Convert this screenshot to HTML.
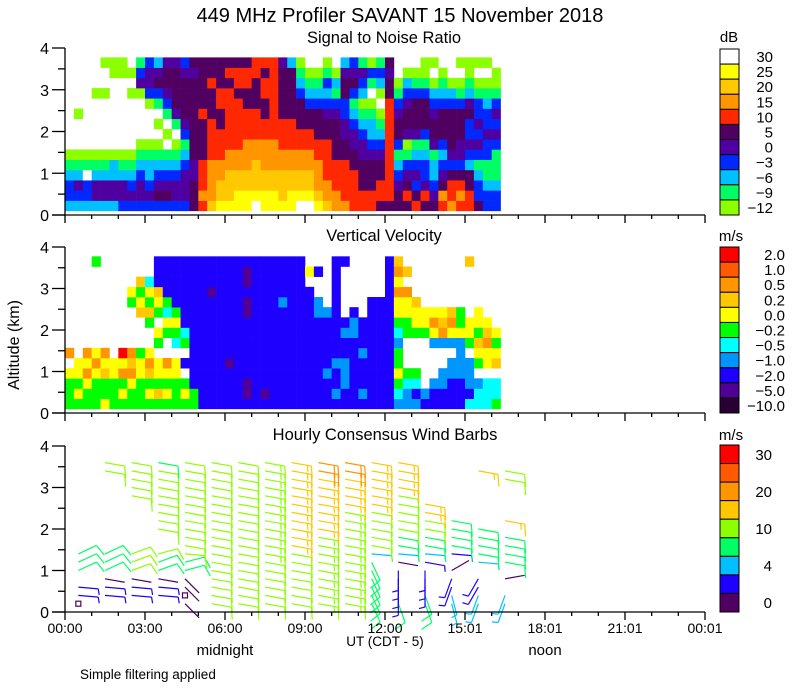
<!DOCTYPE html>
<html><head><meta charset="utf-8"><style>
body{margin:0;background:#fff;}
svg{display:block;font-family:"Liberation Sans",sans-serif;}
</style></head><body>
<svg id="chart" width="800" height="700" viewBox="0 0 800 700" xmlns="http://www.w3.org/2000/svg">
<rect x="0" y="0" width="800" height="700" fill="#fff"/>
<text x="400" y="22" font-size="20" text-anchor="middle">449 MHz Profiler SAVANT 15 November 2018</text>
<text x="384" y="43" font-size="16.5" text-anchor="middle">Signal to Noise Ratio</text>
<text x="384" y="241" font-size="16.5" text-anchor="middle">Vertical Velocity</text>
<text x="385" y="440" font-size="16.5" text-anchor="middle">Hourly Consensus Wind Barbs</text>
<text x="19" y="345" font-size="16" text-anchor="middle" transform="rotate(-90 19 345)">Altitude (km)</text>
<text x="385" y="646" font-size="13.5" text-anchor="middle">UT  (CDT - 5)</text>
<text x="225" y="655" font-size="15" text-anchor="middle">midnight</text>
<text x="545" y="655" font-size="15" text-anchor="middle">noon</text>
<text x="80" y="679" font-size="13.5">Simple filtering applied</text>
<text x="729" y="42" font-size="15" text-anchor="middle">dB</text>
<text x="731" y="241" font-size="15" text-anchor="middle">m/s</text>
<text x="731" y="440" font-size="15" text-anchor="middle">m/s</text>
<g id="layer"></g>
</svg>
<script>
// ---- Data ----
const timeTicks = ["00:00","03:00","06:00","09:00","12:00","15:01","18:01","21:01","00:01"];
const altTicks = [0,1,2,3,4];
const snrLabels = ["30","25","20","15","10","5","0","\u22123","\u22126","\u22129","\u221212"];
const snrCodes = ["w","y","g","o","r","p","v","b","c","n","l"];
const snrColors = ["#ffffff","#ffff00","#ffc800","#ff9600","#ff2800","#500060","#5000a0","#0028ff","#00c0ff","#00ff64","#8cff00"];
const vvLabels = ["2.0","1.0","0.5","0.2","0.0","\u22120.2","\u22120.5","\u22121.0","\u22122.0","\u22125.0","\u221210.0"];
const vvCodes = ["R","O","o","g","y","n","c","a","b","v","k"];
const vvColors = ["#ff0000","#ff5a00","#ff9600","#ffc800","#ffff00","#00ff00","#00ffff","#0096ff","#1e00ff","#500096","#280032"];
const windLabels = ["30","","20","","10","","4","","0"];
const windBounds = [30,25,20,15,10,7,4,2,0];
const windColors = ["#ff0000","#ff5a00","#ff9600","#ffc800","#8cff00","#00ff64","#00c0ff","#1e00ff","#500060"];
// heatmap columns: 20-minute steps from 00:00, each string = 15 altitude bins bottom->top
const snrCols = ["cbbcnl.........","cbvcnl...l.....","cbbwnl.........","cvvcnl.....l...","cvvcnl.....l..l","cvvccl.......ll","bvvcnl.......ll","bvbcnl.....l.l.","bvvbcnl....lvbn","bvbccnl...lbvvb","bpvbcnl.l.nbpvc","bpvbcn.l.nbvppv","bvvbcnl.nvppppv","bvvvbcnbvppppvb","pppvvppppppppvp","rorrrpppprppppp","goooorrrrppprpp","yggoorrrpprrppp","ygggoorrrrrrprp","yyggoorrrrrprrp","yyggooorrrpprrp","wygggoorrrppprr","yyggooorrpprrpr","yyggooorrrrrrrr","ygggoorrrpppppv","yyggoorrrpppppc","wyggoorrpppbcnl","wyggoorrppbcnl.","ygooorrpppbcnl.","goorrrrppvbcbnl","oorrrppppvbncl.","orrrrppvvbbppvc","rrrrppvvbcnbpvb","rrpppvvbcnlcbvn","rrpppvbccnl.nbl","prrppvbcnl.lcbn","prrrrrrrrrrppvp","ppvbcnbppvbnl..","prpvbnlvppvbcl.","rpbvbcnvpppbnl.","prvbbcnbpppbnll","pvbccnvppvbcl.l","ropvbcbpppbcnl.","orrpbvppppbcl..","rorpbvvpppbnl.l","rrppcbvbbpvcnll","pbbcnbvbvbbnl.l","bbcnnbbvbbcnl.l","bbcnnnbvbvbnll."];
const vvCols = ["nnny.o.........","nynyy..........","nnyoyo.........","nnnyoy........n","ynngyo.........","nnnyy..........","nynoyR.........","nnyogo....ny...","nnnyyn...gyng..","nyngoy..ngnyc..","ngnyy.ny.nygbbb","nynyo..nycnbbbb","nnnyy.cnynbbbbb","nyn.b.ncbbbbbbb","nnbbbbbbbbbbbbb","bbbbbbbbbbbbbbb","bbbbbbbbbbbvbbb","bbbbbbbbbbbbbbb","bbbbvbbbbbbbbbb","bbbbbbbbbbbbbbb","bvvbbbbbbvvbvvb","bbbbbbbbbbbbbbb","bvbbbbbbbbbbbbb","bbbbbbbbbbbbbbb","bbbbbbbbbbabbbb","bbbbbbbbbbbbbbb","bbbbbbbbbbbbbbb","bbbbbbbbbbbb.y.","bbbbbbbbbaa..b.","bbbabbbbba.....","babbabbbbbbbbbb","bbaaabbab.....b","bbbbbbbaab.....","babbbabbb......","bbbbbbbbbbb....","bbbbbbbbbbb....","bbbbbbbbbbbbbbb","acnynnacnyyoyog","aacn...nnyyo.g.","abcn...nyyg....","ba.....nyy.....","bba...ayoy.....","bbaa..aogy.....","bbbaa.ayog.....","bbbaaaaynn.....","cbaaa.nyy.....g","cca.nygnyy.....","ccc.yyogy......","ncc.gyny......."];
// wind: hourly columns (centered at hh:30), levels 0.2..3.8 km step 0.2
const _ = null;
const windSpeed = [
 [0,3,3,_,8,8,8,_,_,_,_,_,_,_,_,_,_,_,_],
 [_,3,3,1,8,8,8,_,_,_,_,_,_,_,_,_,12,12,_],
 [_,3,3,1,12,12,12,_,_,_,_,_,_,12,12,12,12,12,_],
 [_,3,3,1,8,8,10,_,_,12,12,12,12,12,12,12,12,9,_],
 [1,0,1,1,8,8,12,12,12,12,12,12,12,12,12,12,12,12,_],
 [12,12,12,12,12,12,12,12,12,12,12,12,12,12,12,12,12,12,_],
 [12,12,12,12,12,12,12,12,12,12,12,12,12,12,12,12,12,12,_],
 [12,12,12,12,12,12,13,13,13,13,13,13,13,13,13,13,13,13,_],
 [12,12,12,12,12,12,12,17,17,17,17,17,17,17,17,17,17,17,_],
 [13,13,13,13,13,13,13,13,13,17,17,17,17,17,17,17,22,22,_],
 [13,13,13,13,13,13,13,13,13,13,13,13,17,17,17,17,22,22,_],
 [8,8,8,8,8,8,6,12,12,12,12,12,17,17,17,17,17,17,_],
 [8,3,3,3,3,1,6,8,8,12,12,12,12,12,17,17,17,17,_],
 [8,8,3,3,3,3,6,8,8,12,12,16,16,_,_,_,_,_,_],
 [5,5,3,3,1,_,3,8,8,8,8,_,_,_,_,_,_,_,_],
 [5,5,3,3,_,5,8,8,8,8,_,_,_,_,_,_,16,_,_],
 [5,5,_,1,_,8,8,8,8,_,16,_,_,_,_,12,12,_,_]
];
const windDir = [
 [0,95,95,_,65,65,65,_,_,_,_,_,_,_,_,_,_,_,_],
 [_,95,95,100,65,65,65,_,_,_,_,_,_,_,_,_,100,100,_],
 [_,95,95,100,70,70,70,_,_,_,_,_,_,100,100,100,100,100,_],
 [_,95,95,100,70,70,75,_,_,100,100,100,100,100,100,100,100,100,_],
 [135,0,135,135,75,75,95,100,100,100,100,100,100,100,100,100,100,100,_],
 [100,100,100,100,100,100,100,100,100,100,100,100,100,100,100,100,100,100,_],
 [100,100,100,100,100,100,100,100,100,100,100,100,100,100,100,100,100,100,_],
 [100,100,100,100,100,100,100,100,100,100,100,100,100,100,100,100,100,100,_],
 [100,100,100,100,100,100,100,100,100,100,100,100,100,100,100,100,100,100,_],
 [100,100,100,100,100,100,100,100,100,100,100,100,100,100,100,100,100,100,_],
 [100,100,100,100,100,100,100,100,100,100,100,100,100,100,100,100,100,100,_],
 [155,155,155,155,155,155,95,100,100,100,100,100,100,100,100,100,100,100,_],
 [160,180,180,180,180,100,95,100,100,100,100,100,100,100,100,100,100,100,_],
 [160,160,180,180,180,100,95,100,100,100,100,100,100,_,_,_,_,_,_],
 [165,165,200,200,60,_,95,100,100,100,100,_,_,_,_,_,_,_,_],
 [200,200,210,210,_,95,100,100,100,100,_,_,_,_,_,_,100,_,_],
 [200,200,_,80,_,100,100,100,100,_,100,_,_,_,_,100,100,_,_]
];
// ---- Scales ----
const NS="http://www.w3.org/2000/svg";
const layer=document.getElementById('layer');
const panels=[{y0:215,y4:48},{y0:413,y4:247},{y0:612,y4:446}];
function xScale(h){return 65+h*80/3;}
function yScale(p,alt){return p.y0-alt*(p.y0-p.y4)/4;}
function mk(tag,attrs,parent){const e=document.createElementNS(NS,tag);for(const k in attrs)e.setAttribute(k,attrs[k]);(parent||layer).appendChild(e);return e;}
const BIN0=0.1,BINH=0.245,COLH=1/3;
function heatmap(p,cols,codes,colors,name){
  const g=mk('g',{});
  
  
  cols.forEach((s,c)=>{
    for(let r=0;r<s.length;r++){
      const idx=codes.indexOf(s[r]); if(idx<0)continue;
      const x1=xScale(c*COLH),x2=xScale((c+1)*COLH);
      const yb=yScale(p,BIN0+r*BINH),yt=yScale(p,BIN0+(r+1)*BINH);
      const e=mk('rect',{x:x1.toFixed(2),y:yt.toFixed(2),width:(x2-x1+0.3).toFixed(2),height:(yb-yt+0.3).toFixed(2),fill:colors[idx]},g);
      
      
    }
  });
}
heatmap(panels[0],snrCols,snrCodes,snrColors,'snr-heatmap');
heatmap(panels[1],vvCols,vvCodes,vvColors,'vv-heatmap');
// wind barbs
function windColor(s){for(let i=0;i<windBounds.length;i++){if(s>=windBounds[i])return windColors[i];}return windColors[windColors.length-1];}
const wg=mk('g',{});


windSpeed.forEach((col,k)=>{
  col.forEach((s,i)=>{
    if(s===null)return;
    const d=windDir[k][i];
    const sx=xScale(k+0.5), sy=yScale(panels[2],0.2*(i+1));
    const col_=windColor(s);
    const b=mk('g',{stroke:col_,'stroke-width':1.2,fill:'none'},wg);
    
    
    if(s===0){mk('rect',{x:sx-2.5,y:sy-2.5,width:5,height:5,stroke:col_},b);return;}
    const a=d*Math.PI/180, dx=Math.sin(a), dy=-Math.cos(a);
    const L=20, ex=sx+dx*L, ey=sy+dy*L;
    mk('line',{x1:sx,y1:sy,x2:ex,y2:ey},b);
    const n=Math.round(s/5), full=Math.floor(n/2), half=n%2;
    const px=-dy, py=dx;
    let pos=0;
    for(let f=0;f<full;f++){const bx=ex-dx*pos,by=ey-dy*pos;mk('line',{x1:bx,y1:by,x2:bx+px*12+dx*3,y2:by+py*12+dy*3},b);pos+=4;}
    if(half){const bx=ex-dx*pos,by=ey-dy*pos;mk('line',{x1:bx,y1:by,x2:bx+px*6+dx*1.5,y2:by+py*6+dy*1.5},b);}
  });
});
// axes
panels.forEach((p,pi)=>{
  const ax=mk('g',{stroke:'#000','stroke-width':1.3});
  
  
  mk('line',{x1:65,y1:p.y4,x2:65,y2:p.y0},ax);
  mk('line',{x1:52,y1:p.y0,x2:705,y2:p.y0},ax);
  for(let v=0;v<=4;v+=0.5){const y=yScale(p,v);mk('line',{x1:v%1===0?52:58,y1:y,x2:65,y2:y},ax);}
  for(let h=0;h<=24;h++){const x=xScale(h);mk('line',{x1:x,y1:p.y0,x2:x,y2:p.y0+(h%3===0?8:4)},ax);}
  altTicks.forEach(v=>{
    const t=mk('text',{x:49,y:yScale(p,v)+6,'font-size':16,'text-anchor':'end',stroke:'none'});
    t.textContent=v;
    
    
  });
});
timeTicks.forEach((s,i)=>{
  const t=mk('text',{x:xScale(i*3),y:633,'font-size':14,'text-anchor':'middle'});
  t.textContent=s;
  
  
});
// colorbars
function colorbar(top,bottom,colors,labels,labelX,name){
  const g=mk('g',{});
  
  
  const h=(bottom-top)/colors.length;
  colors.forEach((c,i)=>{
    const r=mk('rect',{x:720,y:top+i*h,width:19,height:h,fill:c,stroke:'#000','stroke-width':1},g);
    
    
    if(labels[i]){const t=mk('text',{x:labelX,y:top+i*h+h/2+5.5,'font-size':15,'text-anchor':'end'},g);
      t.textContent=labels[i];
      
      }
  });
}
colorbar(49,215,snrColors,snrLabels,773,'snr-colorbar');
colorbar(247,413,vvColors,vvLabels,785,'vv-colorbar');
colorbar(445,612,windColors,windLabels,772,'wind-colorbar');
</script>
</body></html>
